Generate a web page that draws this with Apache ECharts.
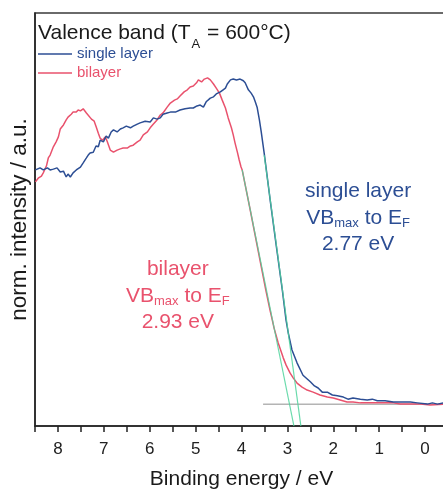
<!DOCTYPE html>
<html>
<head>
<meta charset="utf-8">
<script src="https://cdn.jsdelivr.net/npm/echarts@6/dist/echarts.min.js"></script>
<style>
html,body{margin:0;padding:0;background:#fff;}
#vb{width:443px;height:490px;}
</style>
</head>
<body>
<div id="vb"></div>
<script>
// binding energy (eV) / norm. intensity (a.u., 0-100)
var singleE = [8.49,8.39,8.32,8.23,8.17,8.10,8.02,7.95,7.88,7.82,7.78,7.73,7.67,7.60,7.51,7.45,7.38,7.34,7.30,7.23,7.17,7.12,7.08,7.01,6.95,6.90,6.84,6.79,6.71,6.64,6.58,6.51,6.42,6.36,6.27,6.21,6.10,5.99,5.92,5.84,5.77,5.71,5.62,5.55,5.44,5.34,5.23,5.12,5.05,4.97,4.90,4.83,4.77,4.68,4.61,4.55,4.46,4.40,4.35,4.31,4.24,4.18,4.11,4.03,3.96,3.92,3.85,3.79,3.74,3.70,3.66,3.61,3.57,3.53,3.50,3.375,3.244,3.11,3.03,2.98,2.90,2.79,2.66,2.50,2.41,2.33,2.24,2.13,2.02,1.91,1.78,1.68,1.57,1.41,1.26,1.15,1.04,0.87,0.69,0.54,0.32,0.17,-0.05,-0.16,-0.27,-0.40];
var singleI = [62.0,62.5,62.0,62.5,62.0,62.2,62.5,61.5,61.7,60.3,61.0,60.3,61.3,62.0,62.7,63.7,64.9,65.6,66.1,66.3,67.8,67.6,69.2,68.8,70.2,69.7,71.2,71.7,71.2,71.9,72.2,72.6,72.2,72.6,73.1,73.4,73.8,73.6,74.6,74.3,74.6,75.5,75.8,76.0,76.0,76.5,76.8,77.0,77.0,77.5,77.7,77.2,78.5,79.4,79.7,80.4,80.9,81.4,81.8,82.8,83.8,84.0,83.8,84.0,83.6,83.1,81.4,80.6,79.7,78.5,77.2,74.1,71.2,68.0,65.6,54.7,43.8,32.9,25.7,22.5,18.4,15.3,12.3,10.7,9.7,9.2,8.2,8.2,7.5,7.3,7.0,6.5,6.8,6.5,6.3,6.5,6.1,6.1,5.8,5.8,5.8,5.6,5.3,5.6,5.3,5.6];

var bilayerE = [8.49,8.43,8.36,8.32,8.25,8.21,8.17,8.10,8.04,7.99,7.95,7.88,7.82,7.78,7.71,7.67,7.60,7.56,7.51,7.45,7.38,7.34,7.27,7.21,7.16,7.12,7.08,7.03,6.97,6.93,6.86,6.79,6.71,6.64,6.58,6.49,6.42,6.36,6.27,6.21,6.14,6.05,5.99,5.92,5.84,5.77,5.71,5.62,5.55,5.46,5.40,5.34,5.25,5.18,5.12,5.05,4.98,4.94,4.87,4.81,4.74,4.68,4.61,4.55,4.48,4.42,4.35,4.29,4.22,4.18,4.14,4.09,4.05,4.01,3.985,3.81,3.64,3.47,3.38,3.33,3.29,3.20,3.09,3.03,2.94,2.87,2.79,2.68,2.57,2.44,2.29,2.13,2.00,1.85,1.70,1.57,1.41,1.20,0.98,0.69,0.54,0.32,0.10,-0.11,-0.40];
var bilayerI = [59.1,60.0,60.5,61.3,63.0,64.9,65.6,67.6,68.8,70.0,71.9,72.9,74.1,74.8,75.5,76.0,76.0,76.5,76.3,76.8,75.8,76.0,74.3,73.8,72.2,70.9,69.7,69.2,70.0,69.0,66.8,66.3,66.8,67.1,67.3,67.3,67.8,68.0,68.8,69.2,70.5,71.2,72.2,73.1,74.1,75.3,75.8,77.2,78.2,78.9,79.2,79.9,80.9,81.4,82.1,82.3,83.1,83.8,83.3,84.0,84.3,83.8,82.8,81.8,80.6,78.9,77.0,74.6,72.2,70.5,68.5,66.3,64.4,62.7,62.0,52.3,42.6,32.9,28.1,25.7,23.7,20.1,16.5,14.8,12.8,11.6,10.4,9.4,8.7,8.2,7.5,7.0,6.8,6.3,5.8,5.8,5.6,5.6,5.6,5.6,5.3,5.3,5.3,5.1,5.3];

// linear fits of the leading edge and the background line
var fitSingleE = [3.505, 2.706];
var fitSingleI = [65.6, 0];
var fitBiE = [3.985, 2.858];
var fitBiI = [62.0, 0];
var baseE = [3.53, -0.5];
var baseI = [5.25, 5.25];

var blue = '#2c4e94';
var red = '#e9526d';
var green = '#4fd49c';

function zip(a, b) {
  var out = [];
  for (var i = 0; i < a.length; i++) out.push([a[i], b[i]]);
  return out;
}

var chart = echarts.init(document.getElementById('vb'));
var font = '"Liberation Sans", Arial, sans-serif';

function label3(x, y, color, l1, l3) {
  return {
    type: 'text',
    left: x - 60,
    top: y,
    style: {
      width: 120,
      align: 'center',
      text: '{n|' + l1 + '}\n{n|VB}{s|max}{n| to E}{s|F}\n{n|' + l3 + '}',
      rich: {
        n: { fontSize: 21, lineHeight: 26.5, fill: color, fontFamily: font, align: 'center' },
        s: { fontSize: 13, lineHeight: 13, padding: [10, 0, 0, 0], fill: color, fontFamily: font }
      }
    }
  };
}

var option = {
  animation: false,
  textStyle: { fontFamily: font },
  title: {
    left: 38,
    top: 21,
    padding: 0,
    text: '{a|Valence band (T}{s|A}{a| = 600°C)}',
    textStyle: {
      fontWeight: 'normal',
      rich: {
        a: { fontSize: 21, lineHeight: 25, fontWeight: 'normal', color: '#1a1a1a', fontFamily: font },
        s: { fontSize: 13, lineHeight: 13, fontWeight: 'normal', padding: [21, 1, 0, 1], color: '#1a1a1a', fontFamily: font }
      }
    }
  },
  legend: {
    orient: 'vertical',
    left: 38,
    top: 46,
    padding: 0,
    itemGap: 3,
    itemWidth: 34,
    itemHeight: 1.6,
    icon: 'rect',
    selectedMode: false,
    textStyle: { fontSize: 15, lineHeight: 16, fontFamily: font },
    data: [
      { name: 'single layer', textStyle: { color: blue } },
      { name: 'bilayer', textStyle: { color: red } }
    ]
  },
  grid: {
    left: 35,
    top: 13,
    width: 413,
    height: 413,
    outerBoundsMode: 'none',
    containLabel: false,
    show: true,
    borderColor: '#3a3a3a',
    borderWidth: 1.5
  },
  xAxis: {
    type: 'value',
    inverse: true,
    min: -0.5,
    max: 8.5,
    interval: 0.5,
    name: 'Binding energy / eV',
    nameLocation: 'middle',
    nameGap: 43,
    nameTextStyle: { fontSize: 21, color: '#1a1a1a', fontFamily: font },
    axisLine: { onZero: false, lineStyle: { color: '#222', width: 1.5 } },
    axisTick: { show: true, inside: false, length: 6, lineStyle: { color: '#222', width: 1.5 } },
    axisLabel: {
      fontSize: 17,
      color: '#222',
      margin: 15,
      formatter: function (v) { return v % 1 === 0 ? String(v) : ''; }
    },
    splitLine: { show: false }
  },
  yAxis: {
    type: 'value',
    position: 'left',
    min: 0,
    max: 100,
    name: 'norm. intensity / a.u.',
    nameLocation: 'middle',
    nameGap: 4,
    nameTextStyle: { fontSize: 22.5, color: '#1a1a1a', fontFamily: font },
    axisLine: { show: true, onZero: false, lineStyle: { color: '#222', width: 1.5 } },
    axisTick: { show: false },
    axisLabel: { show: false },
    splitLine: { show: false }
  },
  graphic: [
    label3(365, 181, blue, 'single layer', '2.77 eV'),
    label3(186, 259, red, 'bilayer', '2.93 eV')
  ],
  series: [
    {
      name: 'background',
      type: 'line',
      data: zip(baseE, baseI),
      showSymbol: false,
      lineStyle: { color: '#b4b4b4', width: 1.5 },
      z: 1
    },
    {
      name: 'bilayer',
      type: 'line',
      data: zip(bilayerE, bilayerI),
      showSymbol: false,
      itemStyle: { color: red },
      lineStyle: { color: red, width: 1.5 },
      z: 2
    },
    {
      name: 'single layer',
      type: 'line',
      data: zip(singleE, singleI),
      showSymbol: false,
      itemStyle: { color: blue },
      lineStyle: { color: blue, width: 1.5 },
      z: 3
    },
    {
      name: 'fit bilayer',
      type: 'line',
      data: zip(fitBiE, fitBiI),
      showSymbol: false,
      lineStyle: { color: green, width: 1.2, opacity: 0.85 },
      z: 4
    },
    {
      name: 'fit single layer',
      type: 'line',
      data: zip(fitSingleE, fitSingleI),
      showSymbol: false,
      lineStyle: { color: green, width: 1.2, opacity: 0.85 },
      z: 4
    }
  ]
};
chart.setOption(option);
</script>
</body>
</html>
